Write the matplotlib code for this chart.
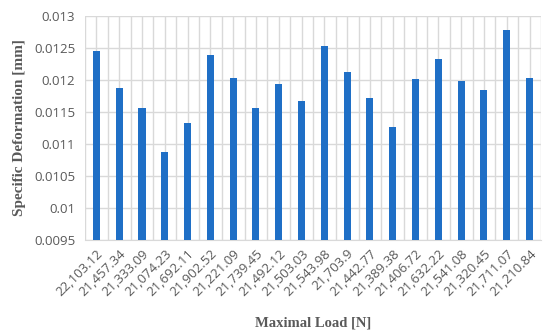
import numpy as np
import matplotlib.pyplot as plt

loads = ['22,103.12', '21,457.34', '21,333.09', '21,074.23', '21,692.11',
         '21,902.52', '21,221.09', '21,739.45', '21,492.12', '21,503.03',
         '21,543.98', '21,703.9', '21,442.77', '21,389.38', '21,406.72',
         '21,632.22', '21,541.08', '21,320.45', '21,711.07', '21,210.84']
deformation = [0.01245, 0.01187, 0.011555, 0.01088, 0.01133,
               0.01239, 0.01202, 0.011555, 0.011934, 0.011664,
               0.012527, 0.012117, 0.011716, 0.01127, 0.012008,
               0.01232, 0.011986, 0.011846, 0.012772, 0.01202]
yticks = [0.0095, 0.01, 0.0105, 0.011, 0.0115, 0.012, 0.0125, 0.013]
ytick_labels = ['0.0095', '0.01', '0.0105', '0.011', '0.0115', '0.012', '0.0125', '0.013']

grey = '#595959'
grid_c = '#d9d9d9'

fig = plt.figure(figsize=(5.5, 3.33), dpi=100)
ax = fig.add_axes([0.1545, 0.279, 0.829, 0.674])

x = np.arange(len(loads))
ax.bar(x, deformation, width=0.31, color='#1f6fc6', zorder=3)

ax.set_xlim(-0.5, len(loads) - 0.5)
ax.set_ylim(yticks[0], yticks[-1])
ax.set_yticks(yticks)
ax.set_yticklabels(ytick_labels, fontsize=9.5, color=grey, family='Open Sans')

ax.set_xticks(x)
ax.set_xticklabels(loads, rotation=45, ha='right', va='top', rotation_mode='anchor',
                   fontsize=9.5, color=grey, family='Open Sans')
ax.tick_params(axis='x', length=0, pad=5)
ax.tick_params(axis='y', length=0, pad=7)

# gridlines: horizontal at every tick, vertical at every half category
ax.grid(axis='y', color=grid_c, linewidth=1, zorder=0)
for v in np.arange(-0.5, len(loads), 0.5):
    ax.axvline(v, color=grid_c, linewidth=1, zorder=0)

for s in ['top', 'right', 'left']:
    ax.spines[s].set_visible(False)
ax.spines['bottom'].set_color(grid_c)

ax.set_ylabel('Specific Deformation [mm]', family='Liberation Serif', fontweight='bold',
              fontsize=11, color=grey, labelpad=6)
ax.set_xlabel('Maximal Load [N]', family='Liberation Serif', fontweight='bold',
              fontsize=10.5, color=grey, labelpad=13)

fig.savefig('out.png', dpi=100)
